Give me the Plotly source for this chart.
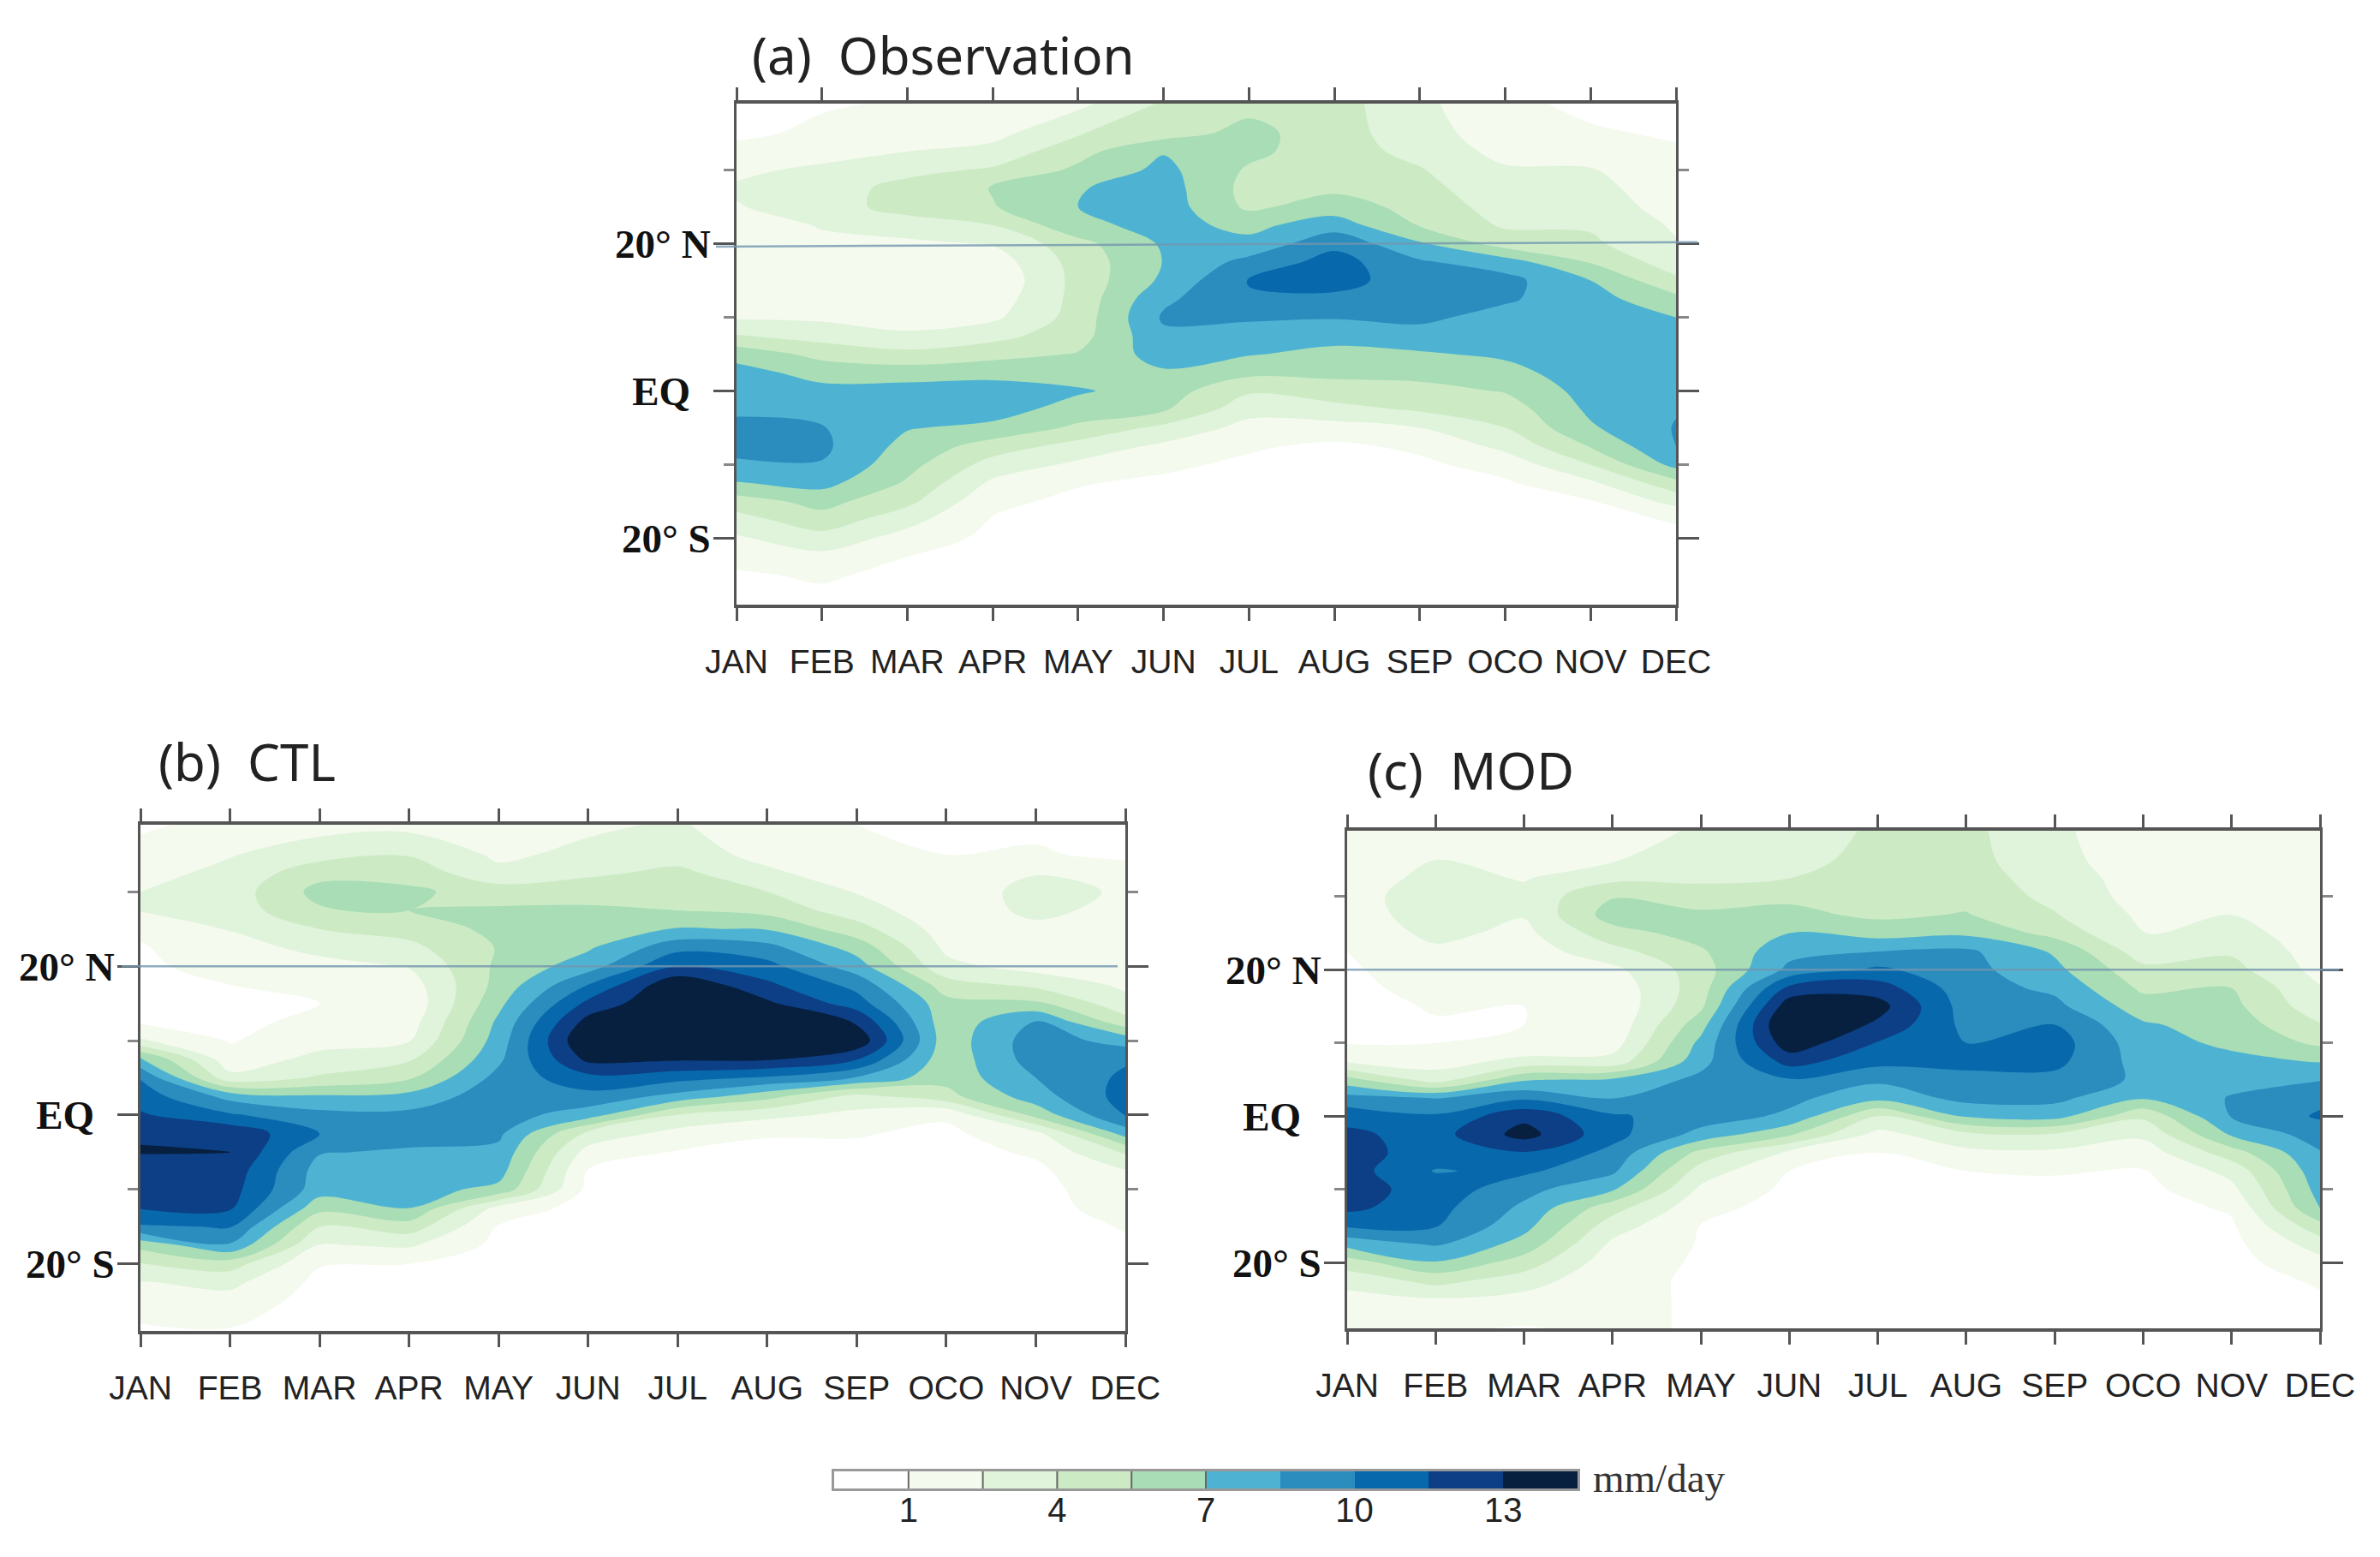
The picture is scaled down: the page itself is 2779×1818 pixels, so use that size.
import plotly.graph_objects as go

W, H = 2779, 1818
OFF = 8  # page margin of the browser
months = ["JAN","FEB","MAR","APR","MAY","JUN","JUL","AUG","SEP","OCO","NOV","DEC"]
lats = [39,35,32.5,30, 27.5,25,22.5,20, 17.5,15,12.5,10, 7.5,5,2.5,0, -2.5,-5,-7.5,-10, -12.5,-15,-17.5,-20, -22.5,-25,-29]
level_start, level_end, level_size = 1, 13, 1.5
colors = ["#ffffff","#f4faee","#e0f3db","#ccebc5","#a8ddb5","#4eb3d3","#2b8cbe","#0868ac","#0c3f86","#07203f"]

# each inner list: one month, values per latitude in `lats`, mm/day
obs_by_month = [
 [.6,.8,1.3,2.2,  2.7,2.4,1.8,1.5,  1.3,1.2,1.6,2.3,  4.1,6.5,7.5,7.9,  8.3,8.8,8.9,8.3,  6.9,4.8,3.4,2.3,  1.5,.8,.3],
 [.9,1.2,1.9,2.8,  3.3,3.3,2.6,2.2,  1.8,1.6,1.6,2.2,  3.4,5,6.5,7.4,  7.9,8.6,8.8,8.4,  7.5,6,4.9,3.4,  2.1,1.2,.5],
 [1.1,1.8,2.5,3.6,  4.5,4.6,3.3,2.2,  1.5,1,1.2,1.7,  2.8,4.4,6.3,7.6,  7.8,7.1,6.5,6,  5.3,4.4,3,1.9,  1,.6,.2],
 [1,2,3,4.2,  5.6,5.4,4,2.6,  1.7,1.3,1.7,2.2,  3.5,5,6.5,7.7,  7.7,6.6,4.8,3.4,  2.2,1.3,.9,.6,  .4,.2,.1],
 [2.1,3.9,5,5.8,  6.9,7,6.6,5,  4.6,4.5,4.5,4.6,  4.9,5.6,6.2,7.2,  6.3,5.2,3.4,2.2,  1.1,.7,.4,.3,  .2,.1,.1],
 [4.2,4.8,6.9,7.4,  7.7,7.8,7.5,7.2,  7.05,7.3,8.2,8.7,  8.2,7.7,6.8,6.2,  5.7,3.6,2.2,1.3,  .7,.4,.2,.2,  .1,.1,.1],
 [5,6,5.9,5.3,  5,5.2,6.6,7.4,  9,10.1,9.8,8.7,  7.9,7.1,5.9,4.2,  3,2,1.2,.7,  .4,.2,.1,.1,  .1,.1,.1],
 [4.6,4.6,4.6,4.8,  5.2,6.2,7.8,9.6,  10.6,10.5,9.7,8.6,  7.5,6.6,5.9,4.8,  3.5,1.9,.7,.5,  .3,.2,.1,.1,  .1,.1,.1],
 [2.9,3.2,3.6,4.1,  4.5,5,5.4,7.2,  8.7,9.3,9.2,8.8,  8,6.8,6,5,  4.2,2.5,1.3,.7,  .4,.3,.2,.2,  .1,.1,.1],
 [1.2,1.6,2,2.7,  3,3.3,3.8,4.8,  7.7,9,8.7,8,  7.6,7.3,6.4,5.6,  4.7,4,2.9,1.6,  .8,.5,.3,.2,  .1,.1,.1],
 [.8,1.1,1.8,2.6,  3,3.3,3.8,4.3,  5.4,7,7.6,7.9,  8.1,8.2,8,7.6,  7.3,6.8,5.6,4,  2.2,.9,.6,.4,  .2,.1,.1],
 [.7,.9,1.1,1.3,  1.6,1.9,2.3,2.6,  3.2,4.3,5.9,7,  7.4,7.7,8,8.2,  8.4,8.6,8.5,7.5,  5,3,1.1,.7,  .4,.2,.1],
]
ctl_by_month = [
 [.9,1.2,2,2.5,  2.6,1.2,.9,.8,  .7,.7,.8,2.7,  7.3,9.9,10.8,11.7,  12.85,13.1,12,12,  11.6,9.8,6,3.9,  2.4,1.6,.8],
 [1.2,2.4,2.9,3.2,  3.2,2.6,1.8,1.4,  1,.8,.7,.9,  1.5,3,8,10.2,  12.7,13.02,12.4,12.1,  11.7,10.1,8.3,4.7,  2.9,1.9,.9],
 [1.9,3.4,5,6,  5.3,4,3,1.9,  1.2,1,1.3,1.9,  3,4.2,7.2,9,  10,8.6,7.9,7.7,  6,3.9,2.4,1.1,  .6,.4,.2],
 [2,3.9,4.9,5.8,  5.5,4.6,3.6,2.6,  1.8,1.4,1.8,2.4,  3.8,5.3,7.5,8.9,  9.1,8.3,7.8,7.6,  7,4.8,2.7,1,  .6,.3,.2],
 [1.4,2.2,2.9,4.8,  5.7,5.9,5.6,5.8,  6,6.6,7.3,7.7,  8.2,9,9.4,9.2,  8.8,8.1,7.6,6.6,  2,.9,.6,.4,  .2,.1,.1],
 [2.2,2.9,3.7,5,  5.7,6.2,6.8,7.8,  10,11.9,13.6,14.6,  13.4,11,9.5,7.7,  3.6,1.9,.9,.6,  .4,.3,.2,.1,  .1,.1,.1],
 [2.7,3.3,4.4,5,  5.5,7.1,9.5,11.5,  14.3,14.6,14.3,14.2,  13.2,10.5,8,3.9,  1.9,.9,.5,.4,  .3,.2,.1,.1,  .1,.1,.1],
 [1.3,2,2.8,4,  5,6.9,9,10.5,  11.8,13.3,14,14.3,  13.2,9.8,6,2.9,  1.1,.7,.4,.3,  .2,.1,.1,.1,  .1,.1,.1],
 [1,1.2,1.6,2.4,  3.2,4.6,6.4,7.7,  9.5,10.7,12.9,14.2,  11.6,8.4,3.5,2.1,  1.1,.7,.4,.3,  .2,.1,.1,.1,  .1,.1,.1],
 [.8,1,1.1,1.3,  1.5,1.8,2.2,2.9,  4.7,6,6,6.1,  6,6,5,1.2,  .7,.5,.3,.2,  .1,.1,.1,.1,  .1,.1,.1],
 [.8,1.1,2.4,3.2,  2.9,2.1,1.6,1.9,  3.6,5.8,8.6,9.3,  9.2,8.5,7.8,6,  2,1.2,.7,.5,  .4,.3,.2,.2,  .1,.1,.1],
 [.7,.8,1.5,2.25,  2,1.5,1.5,1.7,  2.2,3,4.6,7.9,  9.8,10.3,10.6,10.1,  7.6,4.2,2.4,2,  1.7,1.1,.8,.5,  .3,.2,.1],
]
mod_by_month = [
 [1.2,1.4,1.6,1.9,  1.7,1.4,1,.8,  .7,.6,.6,.9,  2.3,6,9,11,  11.8,12.1,12.2,12.1,  11.9,10.2,7.5,4.8,  3,2,1.1],
 [1.5,2.5,3,3.3,  3.3,2.9,2.2,1.8,  1.4,1.1,.9,1,  1.9,3.2,8.4,10.2,  10.9,10.8,9.9,10.9,  10.5,10.1,8.7,6.9,  4.5,2.4,1.2],
 [1.6,2.1,2.4,2.9,  2.6,2.1,1.7,1.5,  1.2,1,1,1.3,  2.9,6.8,9.7,12.6,  13.6,11.4,10.3,9,  8.2,7.5,6.4,4.8,  3.2,2,.9],
 [1.8,2.4,3.6,5.4,  6.2,4.9,3.5,2.1,  1.5,1.3,1.4,1.8,  3,7.2,8.4,10.2,  10.5,9.6,8.8,7.2,  4.6,3.2,2.2,1.6,  1.3,1.3,1.3],
 [2.7,3.2,3.6,5,  5.7,6.1,5.3,4.8,  4.8,5.2,6.4,7.4,  8,8.9,9.2,9.3,  8,5,3.3,2.2,  1.5,.95,.9,.85,  .85,.85,.85],
 [3,3.5,4,5.2,  5.9,7,8,8.9,  11.9,14,15,14,  12.1,9.9,8.9,8.2,  5.7,2.2,1,.7,  .4,.3,.2,.2,  .1,.1,.1],
 [4.3,4.5,4.7,5,  5.2,6.4,8.5,10.3,  12.3,13.6,12.7,11.4,  10.5,8.8,7.5,4,  2,1,.6,.4,  .3,.2,.2,.1,  .1,.1,.1],
 [4.4,4.5,4.7,5,  5.6,6.7,8.8,9,  9.1,9.3,9.6,10,  10.4,9.6,9,7.2,  3.6,2.1,1,.7,  .4,.3,.2,.1,  .1,.1,.1],
 [2.8,3,3.3,3.6,  4.1,5,6.8,7.4,  8.2,8.9,10,10.7,  10.4,9.6,8.9,7.6,  3.8,2.2,1.1,.7,  .4,.3,.2,.2,  .1,.1,.1],
 [1.5,1.6,1.8,1.9,  2.2,2.4,3.2,4.4,  5.2,6.2,7.2,7.6,  7.9,8.2,7.2,4.3,  2.8,1.7,.9,.6,  .4,.3,.2,.2,  .1,.1,.1],
 [1.2,1.4,1.7,2,  2.5,3.2,3.8,4.5,  5.5,5.9,6.3,6.7,  7.4,8,8.6,8.6,  7.2,4.8,3,2.1,  1.2,.8,.6,.5,  .3,.3,.2],
 [1.1,1.2,1.2,1.3,  1.4,1.5,1.8,2,  2.6,3.1,4.1,5.2,  6.9,8.4,9.6,10.2,  9.2,8.4,8,7.6,  7.1,5,3.2,2,  1.2,.8,.5],
]
lat_major = [20, 0, -20]
lat_major_text = ["20° N", "EQ  ", "20° S"]
lat_minor = [30, 10, -10]
cbar_edges = [-0.5,1,2.5,4,5.5,7,8.5,10,11.5,13,14.5]
cbar_mid = [0.25,1.75,3.25,4.75,6.25,7.75,9.25,10.75,12.25,13.75]
cbar_ticks = [1,4,7,10,13]
cbar_dividers = [1,2.5,4,5.5,7]
panel_titles = ["(a)\u00a0 Observation", "(b)\u00a0 CTL", "(c)\u00a0 MOD"]

boxes = [(860,1957,121,706),(164,1314,963,1554),(1573,2709,970,1551)]
title_pos = [(876,64),(183,889),(1595,899)]
cscale = [[i/(len(colors)-1), c] for i, c in enumerate(colors)]
axc = "#555555"

def px(v): return (v-OFF)/W
def py(v): return 1-(v-OFF)/H
def t(rows):
    for r in rows:
        assert len(r) == len(lats)
    return [list(r) for r in zip(*rows)]

fig = go.Figure()
for i, (data, box) in enumerate(zip([obs_by_month, ctl_by_month, mod_by_month], boxes)):
    n = "" if i == 0 else str(i+1)
    fig.add_trace(go.Contour(
        x=months, y=lats, z=t(data), xaxis="x"+n, yaxis="y"+n,
        autocontour=False,
        contours=dict(start=level_start, end=level_end, size=level_size, coloring="fill", showlines=False),
        line=dict(width=0), colorscale=cscale, hoverinfo="skip", showscale=False,
    ))
    fig.update_layout({
        "xaxis"+n: dict(domain=[px(box[0]),px(box[1])], anchor="y"+n, range=[0,11], type="category", categoryorder="array",
                        categoryarray=months, dtick=1, showgrid=False, zeroline=False, showline=True,
                        mirror="ticks", linecolor=axc, linewidth=4, ticks="outside", ticklen=15, tickwidth=3,
                        tickcolor=axc, ticklabelstandoff=14,
                        tickfont=dict(family="Liberation Sans", size=39, color="#222")),
        "yaxis"+n: dict(domain=[py(box[3]),py(box[2])], anchor="x"+n, range=[-29,39], showgrid=False, zeroline=False, showline=True,
                        mirror="ticks", linecolor=axc, linewidth=3, ticks="outside", ticklen=24, tickwidth=3,
                        tickcolor=axc, tickvals=lat_major, ticktext=lat_major_text, ticklabelstandoff=-6,
                        tickfont=dict(family="Liberation Serif", size=47, color="#111", weight="bold"),
                        minor=dict(tickvals=lat_minor, ticks="outside", ticklen=12, tickwidth=3, tickcolor="#888")),
    })
    over = [(836,1982),(142,1305),(1573,2731)][i]
    ys = [(19.6,20.2),(20,20),(20,20)][i]
    fig.add_shape(type="line", xref="paper", yref="y"+n, x0=px(over[0]), x1=px(over[1]), y0=ys[0], y1=ys[1],
                  line=dict(color="rgba(115,150,175,0.8)", width=2.5), layer="above")
    fig.add_annotation(xref="paper", yref="paper", x=px(title_pos[i][0]), y=py(title_pos[i][1]),
                       text=panel_titles[i], showarrow=False, xanchor="left", yanchor="middle",
                       font=dict(family="Noto Sans", size=60, color="#222"))

# colour key drawn as a one-row heatmap on its own axes
fig.add_trace(go.Heatmap(x=cbar_edges, y=[0,1], z=[cbar_mid], xaxis="x4", yaxis="y4", colorscale=cscale,
                         zmin=0.25, zmax=13.75, showscale=False, hoverinfo="skip"))
fig.update_layout(
    xaxis4=dict(domain=[px(974),px(1842)], anchor="y4", range=[-0.5,14.5], tickmode="array", tickvals=cbar_ticks,
                showgrid=False, zeroline=False, showline=True, mirror=True, linecolor="#999", linewidth=3, ticks="",
                ticklabelstandoff=-12, tickfont=dict(family="Liberation Sans", size=40, color="#222")),
    yaxis4=dict(domain=[py(1738),py(1718)], anchor="x4", range=[0,1], showticklabels=False, ticks="",
                showgrid=False, zeroline=False, showline=True, mirror=True, linecolor="#999", linewidth=3),
)
for v in cbar_dividers:
    fig.add_shape(type="line", xref="x4", yref="y4", x0=v, x1=v, y0=0, y1=1, line=dict(color="#666", width=2))

fig.add_annotation(xref="paper", yref="paper", x=px(1858), y=py(1726), text="mm/day", showarrow=False,
                   xanchor="left", yanchor="middle", font=dict(family="Liberation Serif", size=47, color="#333"))
fig.update_layout(width=W, height=H, margin=dict(l=0,r=0,t=0,b=0,autoexpand=False), paper_bgcolor="white",
                  plot_bgcolor="white", autosize=False, showlegend=False)
fig.write_html("out.html")
